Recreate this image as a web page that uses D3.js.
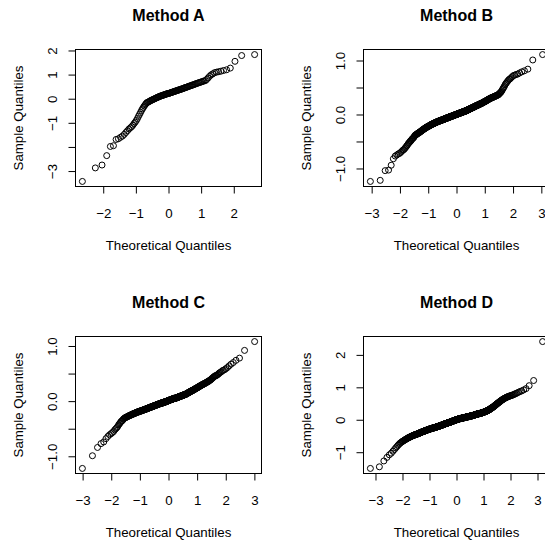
<!DOCTYPE html>
<html><head><meta charset="utf-8">
<script src="https://cdn.jsdelivr.net/npm/d3@7"></script>
<style>body{margin:0;background:#fff}</style>
</head><body>
<svg id="chart" width="545" height="541"></svg>
<script>
// ---------- DATA (sorted sample values) ----------
const titles = ["Method A", "Method B", "Method C", "Method D"];
const xLabel = "Theoretical Quantiles";
const yLabel = "Sample Quantiles";

const sampleA = [
-3.43,-2.87,-2.75,-2.36,-1.98,-1.95,-1.69,-1.66,
-1.60,-1.55,-1.48,-1.40,
-1.33,-1.26,-1.21,-1.16,-1.10,-1.03,-0.97,-0.90,-0.82,-0.73,-0.65,-0.57,-0.49,-0.42,-0.36,-0.30,-0.25,-0.20,
-0.16,-0.15,-0.13,-0.11,-0.09,-0.07,-0.06,-0.04,-0.03,-0.01,0.00,0.02,0.03,0.05,0.06,0.07,0.09,0.10,0.11,0.12,0.13,0.14,0.15,0.16,0.17,0.18,0.19,0.20,0.21,0.22,
0.22,0.23,0.24,0.25,0.26,0.27,0.28,0.29,0.30,0.31,0.32,0.33,0.34,0.35,0.36,0.37,0.38,0.39,0.40,0.41,0.42,0.43,0.45,0.46,0.47,0.48,0.49,0.51,0.52,0.53,
0.54,0.56,0.57,0.58,0.60,0.61,0.63,0.64,0.66,0.67,0.69,0.70,0.72,0.74,0.75,
0.80,0.86,0.93,0.99,1.03,1.08,1.10,1.12,1.14,1.17,1.20,1.27,1.55,1.79,1.83
];

const sampleB = [
-1.24,-1.22,-1.04,-1.03,-0.94,-0.82,-0.77,-0.75,-0.73,-0.72,
-0.70,-0.68,
-0.66,-0.65,-0.63,
-0.61,-0.59,-0.57,-0.55,
-0.53,-0.52,-0.50,-0.49,-0.48,
-0.46,-0.45,-0.44,-0.43,-0.42,
-0.40,-0.39,-0.38,-0.38,-0.37,-0.36,
-0.36,-0.35,-0.35,-0.34,-0.34,-0.33,-0.33,
-0.32,-0.32,-0.31,-0.31,-0.30,-0.30,-0.29,-0.29,
-0.28,-0.28,-0.27,-0.27,-0.27,-0.26,-0.26,-0.25,
-0.25,-0.25,-0.24,-0.24,-0.24,-0.23,-0.23,-0.23,-0.22,-0.22,
-0.22,-0.22,-0.21,-0.21,-0.21,-0.21,-0.20,-0.20,-0.20,-0.19,-0.19,
-0.19,-0.19,-0.18,-0.18,-0.18,-0.18,-0.18,-0.17,-0.17,-0.17,-0.17,-0.17,
-0.16,-0.16,-0.16,-0.16,-0.16,-0.15,-0.15,-0.15,-0.15,-0.15,-0.14,-0.14,-0.14,
-0.14,-0.14,-0.14,-0.13,-0.13,-0.13,-0.13,-0.13,-0.13,-0.12,-0.12,-0.12,-0.12,-0.12,
-0.12,-0.12,-0.12,-0.11,-0.11,-0.11,-0.11,-0.11,-0.11,-0.11,-0.10,-0.10,-0.10,-0.10,-0.10,
-0.10,-0.10,-0.10,-0.09,-0.09,-0.09,-0.09,-0.09,-0.09,-0.09,-0.08,-0.08,-0.08,-0.08,-0.08,
-0.08,-0.08,-0.08,-0.07,-0.07,-0.07,-0.07,-0.07,-0.07,-0.07,-0.06,-0.06,-0.06,-0.06,-0.06,-0.06,
-0.06,-0.06,-0.06,-0.05,-0.05,-0.05,-0.05,-0.05,-0.05,-0.05,-0.04,-0.04,-0.04,-0.04,-0.04,-0.04,-0.04,
-0.04,-0.04,-0.04,-0.03,-0.03,-0.03,-0.03,-0.03,-0.03,-0.03,-0.02,-0.02,-0.02,-0.02,-0.02,-0.02,-0.02,
-0.02,-0.02,-0.02,-0.01,-0.01,-0.01,-0.01,-0.01,-0.01,-0.01,0.00,0.00,0.00,0.00,0.00,0.00,0.00,
0.00,0.00,0.00,0.01,0.01,0.01,0.01,0.01,0.01,0.01,0.02,0.02,0.02,0.02,0.02,0.02,0.02,
0.02,0.02,0.02,0.03,0.03,0.03,0.03,0.03,0.03,0.03,0.04,0.04,0.04,0.04,0.04,0.04,0.04,
0.04,0.04,0.04,0.05,0.05,0.05,0.05,0.05,0.05,0.05,0.06,0.06,0.06,0.06,0.06,0.06,0.06,
0.06,0.06,0.06,0.07,0.07,0.07,0.07,0.07,0.07,0.08,0.08,0.08,0.08,0.08,0.08,0.08,
0.09,0.09,0.09,0.09,0.09,0.09,0.10,0.10,0.10,0.10,0.10,0.10,0.11,0.11,0.11,
0.11,0.11,0.11,0.12,0.12,0.12,0.12,0.12,0.12,0.13,0.13,0.13,0.13,0.13,0.13,
0.14,0.14,0.14,0.14,0.14,0.15,0.15,0.15,0.15,0.15,0.16,0.16,0.16,0.16,
0.16,0.16,0.17,0.17,0.17,0.17,0.17,0.18,0.18,0.18,0.18,0.18,0.18,
0.19,0.19,0.19,0.19,0.20,0.20,0.20,0.20,0.20,0.21,0.21,0.21,
0.21,0.21,0.22,0.22,0.22,0.23,0.23,0.23,0.23,0.24,0.24,
0.24,0.24,0.25,0.25,0.25,0.26,0.26,0.26,0.27,0.27,
0.27,0.28,0.28,0.28,0.29,0.29,0.29,0.30,
0.30,0.30,0.31,0.31,0.31,0.31,0.32,0.32,
0.32,0.33,0.33,0.33,0.34,0.34,0.34,
0.35,0.35,0.36,0.36,0.36,0.37,
0.38,0.39,0.40,0.41,0.42,
0.44,0.46,0.48,0.50,0.52,
0.55,0.57,0.59,0.61,
0.63,0.65,0.66,
0.68,0.70,
0.72,0.73,0.74,0.75,0.77,0.79,0.81,0.84,1.01,1.11
];

const sampleC = [
-1.22,-0.99,-0.84,-0.77,-0.74,-0.68,-0.64,-0.61,-0.59,
-0.57,-0.55,
-0.52,-0.50,-0.48,
-0.46,-0.43,-0.41,
-0.39,-0.37,-0.36,-0.35,
-0.33,-0.32,-0.31,-0.30,
-0.30,-0.29,-0.29,-0.28,-0.28,-0.27,
-0.27,-0.26,-0.26,-0.26,-0.25,-0.25,
-0.24,-0.24,-0.24,-0.23,-0.23,-0.23,-0.23,
-0.22,-0.22,-0.22,-0.21,-0.21,-0.21,-0.20,-0.20,
-0.20,-0.20,-0.20,-0.19,-0.19,-0.19,-0.19,-0.18,
-0.18,-0.18,-0.18,-0.18,-0.18,-0.17,-0.17,-0.17,-0.17,-0.17,
-0.16,-0.16,-0.16,-0.16,-0.16,-0.15,-0.15,-0.15,-0.15,-0.15,-0.15,
-0.14,-0.14,-0.14,-0.14,-0.14,-0.13,-0.13,-0.13,-0.13,-0.13,-0.13,
-0.12,-0.12,-0.12,-0.12,-0.12,-0.12,-0.11,-0.11,-0.11,-0.11,-0.11,-0.11,
-0.10,-0.10,-0.10,-0.10,-0.10,-0.10,-0.10,-0.09,-0.09,-0.09,-0.09,-0.09,-0.09,
-0.08,-0.08,-0.08,-0.08,-0.08,-0.08,-0.08,-0.07,-0.07,-0.07,-0.07,-0.07,-0.07,-0.07,
-0.06,-0.06,-0.06,-0.06,-0.06,-0.06,-0.06,-0.05,-0.05,-0.05,-0.05,-0.05,-0.05,-0.05,
-0.04,-0.04,-0.04,-0.04,-0.04,-0.04,-0.04,-0.04,-0.03,-0.03,-0.03,-0.03,-0.03,-0.03,-0.03,
-0.03,-0.03,-0.03,-0.03,-0.02,-0.02,-0.02,-0.02,-0.02,-0.02,-0.01,-0.01,-0.01,-0.01,-0.01,
-0.01,-0.01,-0.01,-0.01,-0.01,0.00,0.00,0.00,0.00,0.00,0.00,0.01,0.01,0.01,0.01,
0.01,0.01,0.01,0.01,0.02,0.02,0.02,0.02,0.02,0.02,0.03,0.03,0.03,0.03,0.03,
0.03,0.03,0.03,0.03,0.04,0.04,0.04,0.04,0.04,0.04,0.04,0.05,0.05,0.05,0.05,
0.05,0.05,0.05,0.05,0.05,0.05,0.05,0.06,0.06,0.06,0.06,0.06,0.06,0.06,0.06,
0.07,0.07,0.07,0.07,0.07,0.07,0.07,0.08,0.08,0.08,0.08,0.08,0.08,0.08,
0.09,0.09,0.09,0.09,0.09,0.09,0.09,0.10,0.10,0.10,0.10,0.10,0.10,0.10,
0.11,0.11,0.11,0.11,0.11,0.11,0.12,0.12,0.12,0.12,0.12,0.12,0.12,
0.13,0.13,0.13,0.13,0.14,0.14,0.14,0.14,0.15,0.15,0.15,0.15,
0.16,0.16,0.16,0.16,0.17,0.17,0.17,0.17,0.18,0.18,0.18,
0.18,0.19,0.19,0.19,0.19,0.20,0.20,0.20,0.20,0.21,0.21,
0.21,0.22,0.22,0.22,0.23,0.23,0.23,0.24,0.24,0.24,
0.24,0.25,0.25,0.26,0.26,0.26,0.27,0.27,
0.27,0.28,0.28,0.29,0.29,0.29,0.30,0.30,
0.30,0.31,0.31,0.32,0.32,0.32,0.33,
0.33,0.34,0.34,0.35,0.35,0.36,
0.36,0.37,0.38,0.38,0.39,0.40,
0.41,0.42,0.43,0.44,
0.45,0.46,0.46,0.47,
0.48,0.49,0.51,
0.52,0.53,0.55,
0.56,0.57,
0.59,0.61,0.64,0.67,0.70,0.74,0.78,0.92,1.08
];

const sampleD = [
-1.50,-1.45,-1.27,-1.16,-1.08,-1.03,-0.97,-0.92,-0.87,-0.83,-0.79,-0.76,-0.73,-0.71,-0.69,-0.67,
-0.66,-0.65,-0.63,-0.62,
-0.61,-0.60,-0.59,-0.58,-0.57,
-0.56,-0.55,-0.55,-0.54,-0.53,-0.53,
-0.52,-0.51,-0.51,-0.50,-0.50,-0.49,-0.49,
-0.48,-0.48,-0.47,-0.47,-0.47,-0.46,-0.46,-0.46,-0.45,
-0.45,-0.45,-0.44,-0.44,-0.44,-0.43,-0.43,-0.43,-0.42,-0.42,
-0.42,-0.41,-0.41,-0.41,-0.40,-0.40,-0.40,-0.39,-0.39,-0.39,-0.38,
-0.38,-0.38,-0.38,-0.37,-0.37,-0.37,-0.37,-0.36,-0.36,-0.36,-0.36,-0.35,-0.35,
-0.35,-0.35,-0.34,-0.34,-0.34,-0.34,-0.34,-0.33,-0.33,-0.33,-0.33,-0.32,-0.32,-0.32,
-0.32,-0.32,-0.31,-0.31,-0.31,-0.31,-0.31,-0.30,-0.30,-0.30,-0.30,-0.30,-0.29,-0.29,-0.29,-0.29,
-0.29,-0.29,-0.29,-0.28,-0.28,-0.28,-0.28,-0.28,-0.28,-0.27,-0.27,-0.27,-0.27,-0.27,-0.27,-0.26,-0.26,-0.26,
-0.26,-0.26,-0.26,-0.26,-0.26,-0.26,-0.25,-0.25,-0.25,-0.25,-0.25,-0.25,-0.25,-0.24,-0.24,-0.24,-0.24,-0.24,-0.24,
-0.24,-0.24,-0.24,-0.23,-0.23,-0.23,-0.23,-0.23,-0.23,-0.23,-0.22,-0.22,-0.22,-0.22,-0.22,-0.22,-0.22,-0.21,-0.21,-0.21,-0.21,
-0.21,-0.21,-0.21,-0.21,-0.20,-0.20,-0.20,-0.20,-0.20,-0.20,-0.20,-0.20,-0.19,-0.19,-0.19,-0.19,-0.19,-0.19,-0.19,-0.19,-0.18,-0.18,-0.18,
-0.18,-0.18,-0.18,-0.18,-0.18,-0.17,-0.17,-0.17,-0.17,-0.17,-0.17,-0.17,-0.17,-0.16,-0.16,-0.16,-0.16,-0.16,-0.16,-0.16,-0.16,-0.15,-0.15,-0.15,
-0.15,-0.15,-0.15,-0.15,-0.15,-0.14,-0.14,-0.14,-0.14,-0.14,-0.14,-0.14,-0.14,-0.13,-0.13,-0.13,-0.13,-0.13,-0.13,-0.13,-0.13,-0.12,-0.12,-0.12,-0.12,
-0.12,-0.12,-0.12,-0.12,-0.11,-0.11,-0.11,-0.11,-0.11,-0.11,-0.11,-0.11,-0.11,-0.10,-0.10,-0.10,-0.10,-0.10,-0.10,-0.10,-0.10,-0.10,-0.09,-0.09,-0.09,-0.09,
-0.09,-0.09,-0.09,-0.09,-0.09,-0.08,-0.08,-0.08,-0.08,-0.08,-0.08,-0.08,-0.08,-0.08,-0.07,-0.07,-0.07,-0.07,-0.07,-0.07,-0.07,-0.07,-0.07,-0.06,-0.06,-0.06,-0.06,-0.06,
-0.06,-0.06,-0.06,-0.06,-0.05,-0.05,-0.05,-0.05,-0.05,-0.05,-0.05,-0.05,-0.05,-0.04,-0.04,-0.04,-0.04,-0.04,-0.04,-0.04,-0.04,-0.04,-0.03,-0.03,-0.03,-0.03,-0.03,
-0.03,-0.03,-0.03,-0.03,-0.02,-0.02,-0.02,-0.02,-0.02,-0.02,-0.02,-0.02,-0.02,-0.01,-0.01,-0.01,-0.01,-0.01,-0.01,-0.01,-0.01,-0.01,-0.01,0.00,0.00,0.00,0.00,0.00,
0.00,0.00,0.00,0.00,0.00,0.01,0.01,0.01,0.01,0.01,0.01,0.01,0.01,0.01,0.01,0.02,0.02,0.02,0.02,0.02,0.02,0.02,0.02,0.02,0.03,0.03,0.03,0.03,
0.03,0.03,0.03,0.03,0.03,0.03,0.03,0.03,0.03,0.04,0.04,0.04,0.04,0.04,0.04,0.04,0.04,0.04,0.04,0.04,0.04,0.04,0.05,0.05,0.05,0.05,0.05,
0.05,0.05,0.05,0.05,0.05,0.05,0.05,0.05,0.05,0.06,0.06,0.06,0.06,0.06,0.06,0.06,0.06,0.06,0.06,0.06,0.06,0.06,0.06,0.07,0.07,0.07,0.07,0.07,
0.07,0.07,0.07,0.07,0.07,0.07,0.07,0.07,0.08,0.08,0.08,0.08,0.08,0.08,0.08,0.08,0.08,0.08,0.08,0.08,0.08,0.09,0.09,0.09,0.09,0.09,
0.09,0.09,0.09,0.09,0.09,0.09,0.09,0.09,0.10,0.10,0.10,0.10,0.10,0.10,0.10,0.10,0.10,0.10,0.10,0.10,0.11,0.11,0.11,0.11,0.11,
0.11,0.11,0.11,0.11,0.11,0.11,0.11,0.12,0.12,0.12,0.12,0.12,0.12,0.12,0.12,0.12,0.12,0.12,0.12,0.13,0.13,0.13,0.13,0.13,
0.13,0.13,0.13,0.13,0.14,0.14,0.14,0.14,0.14,0.14,0.14,0.14,0.15,0.15,0.15,0.15,0.15,0.15,0.15,0.15,0.16,0.16,0.16,
0.16,0.16,0.16,0.16,0.17,0.17,0.17,0.17,0.17,0.17,0.17,0.17,0.17,0.17,0.18,0.18,0.18,0.18,0.18,0.18,0.18,
0.18,0.18,0.18,0.19,0.19,0.19,0.19,0.19,0.19,0.19,0.19,0.19,0.20,0.20,0.20,0.20,0.20,0.20,0.20,
0.20,0.20,0.21,0.21,0.21,0.21,0.21,0.21,0.22,0.22,0.22,0.22,0.22,0.22,0.23,0.23,0.23,0.23,
0.23,0.23,0.24,0.24,0.24,0.24,0.24,0.25,0.25,0.25,0.25,0.25,0.26,0.26,0.26,0.26,
0.26,0.27,0.27,0.27,0.28,0.28,0.28,0.29,0.29,0.29,0.29,0.30,0.30,0.30,
0.30,0.31,0.31,0.32,0.32,0.33,0.33,0.34,0.34,0.35,0.35,0.35,0.36,
0.36,0.37,0.37,0.38,0.38,0.39,0.39,0.40,0.40,0.41,0.42,
0.42,0.43,0.44,0.44,0.45,0.46,0.46,0.47,0.48,0.49,
0.49,0.50,0.51,0.52,0.52,0.53,0.54,0.55,0.56,
0.56,0.57,0.58,0.59,0.60,0.61,0.62,
0.62,0.63,0.64,0.65,0.66,0.67,
0.67,0.68,0.69,0.70,0.71,
0.71,0.72,0.73,0.74,
0.74,0.75,0.76,0.77,0.78,0.80,0.81,0.83,0.85,0.87,0.89,0.92,0.96,1.05,1.21,2.41
];

const xTicksA = [-2, -1, 0, 1, 2];
const xTickLabelsA = ["\u22122", "\u22121", "0", "1", "2"];
const xTicksWide = [-3, -2, -1, 0, 1, 2, 3];
const xTickLabelsWide = ["\u22123", "\u22122", "\u22121", "0", "1", "2", "3"];
const yTicksA = [-3, -2, -1, 0, 1, 2];
const yTickLabelsA = ["\u22123", "", "\u22121", "0", "1", "2"];
const yTicksBC = [-1, -0.5, 0, 0.5, 1];
const yTickLabelsBC = ["\u22121.0", "", "0.0", "", "1.0"];
const yTicksD = [-1, 0, 1, 2];
const yTickLabelsD = ["\u22121", "0", "1", "2"];

// ---------- helpers ----------
function qnorm(p) {
  const a=[-3.969683028665376e+01,2.209460984245205e+02,-2.759285104469687e+02,1.383577518672690e+02,-3.066479806614716e+01,2.506628277459239e+00];
  const b=[-5.447609879822406e+01,1.615858368580409e+02,-1.556989798598866e+02,6.680131188771972e+01,-1.328068155288572e+01];
  const c=[-7.784894002430293e-03,-3.223964580411365e-01,-2.400758277161838e+00,-2.549732539343734e+00,4.374664141464968e+00,2.938163982698783e+00];
  const d=[7.784695709041462e-03,3.224671290700398e-01,2.445134137142996e+00,3.754408661907416e+00];
  const pl=0.02425, ph=1-pl; let q, r;
  if (p < pl) { q=Math.sqrt(-2*Math.log(p)); return (((((c[0]*q+c[1])*q+c[2])*q+c[3])*q+c[4])*q+c[5])/((((d[0]*q+d[1])*q+d[2])*q+d[3])*q+1); }
  if (p <= ph) { q=p-0.5; r=q*q; return (((((a[0]*r+a[1])*r+a[2])*r+a[3])*r+a[4])*r+a[5])*q/(((((b[0]*r+b[1])*r+b[2])*r+b[3])*r+b[4])*r+1); }
  q=Math.sqrt(-2*Math.log(1-p)); return -(((((c[0]*q+c[1])*q+c[2])*q+c[3])*q+c[4])*q+c[5])/((((d[0]*q+d[1])*q+d[2])*q+d[3])*q+1);
}
function ppoints(n) {
  const a = n <= 10 ? 3/8 : 0.5;
  return d3.range(n).map(i => (i + 1 - a) / (n + 1 - 2*a));
}

// ---------- layout ----------
const svg = d3.select("#chart");
const FONT = "'Liberation Sans', Arial, Helvetica, sans-serif";
const L = 75.5, T = 49.5, W = 186, H = 137;

const panels = [
  {title: titles[0], data: sampleA, xt: xTicksA, xl: xTickLabelsA, yt: yTicksA, yl: yTickLabelsA, ox: 0, oy: 0},
  {title: titles[1], data: sampleB, xt: xTicksWide, xl: xTickLabelsWide, yt: yTicksBC, yl: yTickLabelsBC, ox: 288, oy: 0},
  {title: titles[2], data: sampleC, xt: xTicksWide, xl: xTickLabelsWide, yt: yTicksBC, yl: yTickLabelsBC, ox: 0, oy: 287},
  {title: titles[3], data: sampleD, xt: xTicksWide, xl: xTickLabelsWide, yt: yTicksD, yl: yTickLabelsD, ox: 288, oy: 287}
];

panels.forEach(p => {
  const g = svg.append("g").attr("transform", `translate(${p.ox},${p.oy})`);
  const ys = p.data.slice().sort(d3.ascending);
  const pp = ppoints(ys.length);
  const pts = ys.map((v, i) => ({x: qnorm(pp[i]), y: v}));

  const xr = d3.extent(pts, d => d.x), yr = d3.extent(pts, d => d.y);
  const xp = (xr[1] - xr[0]) * 0.04, yp = (yr[1] - yr[0]) * 0.04;
  const x = d3.scaleLinear().domain([xr[0] - xp, xr[1] + xp]).range([L, L + W]);
  const y = d3.scaleLinear().domain([yr[0] - yp, yr[1] + yp]).range([T + H, T]);

  // x axis
  const xa = g.append("g").attr("transform", `translate(0,${T + H})`)
    .call(d3.axisBottom(x).tickValues(p.xt).tickSize(7).tickFormat((d, i) => p.xl[i]));
  xa.select(".domain").remove();
  xa.selectAll("line").attr("stroke", "#000").attr("stroke-width", 1);
  xa.selectAll("text").attr("y", 31.5).attr("dy", null)
    .attr("fill", "#000").style("font-family", FONT).style("font-size", "13.3px");

  // y axis
  const ya = g.append("g").attr("transform", `translate(${L},0)`)
    .call(d3.axisLeft(y).tickValues(p.yt).tickSize(7).tickFormat((d, i) => p.yl[i]));
  ya.select(".domain").remove();
  ya.selectAll("line").attr("stroke", "#000").attr("stroke-width", 1);
  ya.selectAll("text").attr("x", null).attr("dy", null)
    .attr("text-anchor", "middle")
    .attr("transform", "translate(-18.5,0) rotate(-90)")
    .attr("fill", "#000").style("font-family", FONT).style("font-size", "13.3px");

  // box
  g.append("rect").attr("x", L).attr("y", T).attr("width", W).attr("height", H)
    .attr("fill", "none").attr("stroke", "#000").attr("stroke-width", 1);

  // points
  g.append("g").selectAll("circle").data(pts).join("circle")
    .attr("cx", d => x(d.x)).attr("cy", d => y(d.y)).attr("r", 3.0)
    .attr("fill", "none").attr("stroke", "#000").attr("stroke-width", 1);

  // title
  g.append("text").attr("x", L + W / 2).attr("y", 20.7).attr("text-anchor", "middle")
    .style("font-family", FONT).style("font-size", "16px").style("font-weight", "bold")
    .text(p.title);
  // x label
  g.append("text").attr("x", L + W / 2).attr("y", 249.5).attr("text-anchor", "middle")
    .style("font-family", FONT).style("font-size", "13.3px").text(xLabel);
  // y label
  g.append("text").attr("text-anchor", "middle")
    .attr("transform", `translate(23,${T + H / 2}) rotate(-90)`)
    .style("font-family", FONT).style("font-size", "13.3px").text(yLabel);
});
</script>
</body></html>
